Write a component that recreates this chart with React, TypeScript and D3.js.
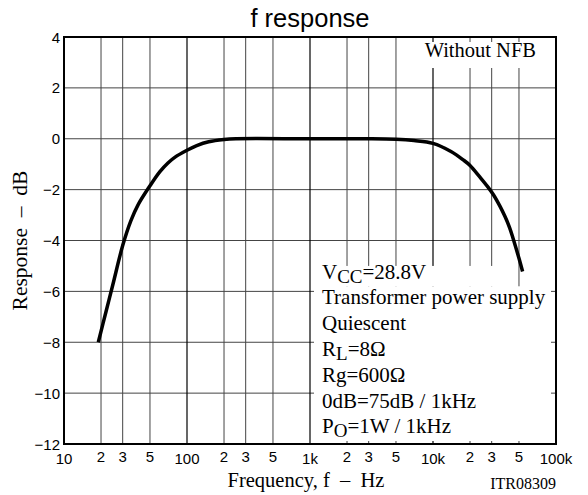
import React from "react";
import * as d3 from "d3";

const titleText = "f response";
const freqs = [19, 22, 25, 30, 35, 40, 50, 60, 70, 80, 100, 120, 150, 200, 250, 1000, 3000, 5000, 7000, 10000, 14000, 17600, 20000, 24000, 28000, 31000, 35000, 38500, 42000, 45000, 50000, 53500];
const response = [-8, -6.78, -5.72, -4.2, -3.22, -2.6, -1.85, -1.3, -0.95, -0.72, -0.45, -0.27, -0.12, -0.03, 0, 0, 0, -0.02, -0.07, -0.18, -0.5, -0.83, -1.05, -1.5, -1.9, -2.2, -2.65, -3.06, -3.5, -3.95, -4.7, -5.22];
const decadeTicks = [10, 100, 1000, 10000, 100000];
const decadeLabels = ["10", "100", "1k", "10k", "100k"];
const minorMultipliers = [2, 3, 5];
const yTicks = [-12, -10, -8, -6, -4, -2, 0, 2, 4];
const annotationLines = [
  ["V", "CC", "=28.8V"],
  ["Transformer power supply"],
  ["Quiescent"],
  ["R", "L", "=8Ω"],
  ["Rg=600Ω"],
  ["0dB=75dB / 1kHz"],
  ["P", "O", "=1W / 1kHz"],
];

const W = 588, H = 495;
const L = 64, R = 556, T = 37, B = 444;

export default function App() {
  const x = d3.scaleLog().domain([10, 100000]).range([L, R]);
  const y = d3.scaleLinear().domain([-12, 4]).range([B, T]);
  const minorTicks: number[] = [];
  decadeTicks.slice(0, -1).forEach((d) => minorMultipliers.forEach((m) => minorTicks.push(d * m)));
  const line = d3
    .line<number>()
    .x((_, i) => x(freqs[i]))
    .y((v) => y(v))
    .curve(d3.curveCatmullRom.alpha(0.5));
  const sans = "'Liberation Sans', Arial, sans-serif";
  const serif = "'Liberation Serif', 'Times New Roman', serif";
  const annX = x(1000) + 12;
  const annY0 = y(-5.5);
  const lineH = 25.8;
  return (
    <svg width={W} height={H} style={{ position: "absolute", left: 0, top: 0, background: "#fff" }}>
      <rect width={W} height={H} fill="#fff" />
      <text x={(L + R) / 2} y={27} textAnchor="middle" fontFamily={sans} fontSize={25.5}>
        {titleText}
      </text>
      {/* grid */}
      {yTicks.map((t) => (
        <line key={"h" + t} x1={L} x2={R} y1={y(t)} y2={y(t)} stroke="#444" strokeWidth={1} />
      ))}
      {minorTicks.map((t) => (
        <line key={"m" + t} x1={x(t)} x2={x(t)} y1={T} y2={B} stroke="#444" strokeWidth={1} />
      ))}
      {decadeTicks.map((t) => (
        <line key={"d" + t} x1={x(t)} x2={x(t)} y1={T} y2={B} stroke="#000" strokeWidth={1.2} />
      ))}
      {/* text backgrounds */}
      <rect x={x(6500)} y={T + 5} width={R - 5 - x(6500)} height={26} fill="#fff" />
      <rect x={x(1000) + 4} y={y(-5)} width={x(40000) - x(1000) - 4} height={y(-5.8) - y(-5)} fill="#fff" />
      <rect x={x(1000) + 4} y={y(-5.8)} width={R - 5 - x(1000) - 4} height={B - 3 - y(-5.8)} fill="#fff" />
      {/* curve */}
      <path d={line(response) || ""} fill="none" stroke="#000" strokeWidth={3.5} strokeLinecap="butt" />
      {/* border */}
      <rect x={L} y={T} width={R - L} height={B - T} fill="none" stroke="#000" strokeWidth={2} />
      {/* y tick labels */}
      {yTicks.map((t) => (
        <text key={"yl" + t} x={L - 4} y={y(t) + 5.5} textAnchor="end" fontFamily={sans} fontSize={15}>
          {t < 0 ? "\u2212" + Math.abs(t) : String(t)}
        </text>
      ))}
      {/* x tick labels */}
      {decadeTicks.map((t, i) => (
        <text key={"xl" + t} x={x(t)} y={B + 20} textAnchor="middle" fontFamily={sans} fontSize={15}>
          {decadeLabels[i]}
        </text>
      ))}
      {minorTicks.map((t) => (
        <text key={"xm" + t} x={x(t)} y={B + 18} textAnchor="middle" fontFamily={sans} fontSize={15}>
          {String(Math.round(t / Math.pow(10, Math.floor(Math.log10(t) + 1e-9))))}
        </text>
      ))}
      {/* axis titles */}
      <text x={306} y={487} textAnchor="middle" fontFamily={serif} fontSize={20.5} style={{ whiteSpace: "pre" }}>
        {"Frequency, f  –  Hz"}
      </text>
      <text
        transform={`translate(27,${(T + B) / 2}) rotate(-90)`}
        textAnchor="middle"
        fontFamily={serif}
        fontSize={21.5}
        style={{ whiteSpace: "pre" }}
      >
        {"Response  –  dB"}
      </text>
      <text x={R} y={489} textAnchor="end" fontFamily={serif} fontSize={16}>
        ITR08309
      </text>
      <text x={R - 20} y={57} textAnchor="end" fontFamily={serif} fontSize={20.5}>
        Without NFB
      </text>
      {/* annotation */}
      {annotationLines.map((parts, i) => (
        <text key={"a" + i} x={annX} y={annY0 + i * lineH} fontFamily={serif} fontSize={21}>
          {parts.length === 1 ? (
            parts[0]
          ) : (
            <>
              <tspan>{parts[0]}</tspan>
              <tspan dy={4} fontSize={19}>{parts[1]}</tspan>
              <tspan dy={-4}>{parts[2]}</tspan>
            </>
          )}
        </text>
      ))}
    </svg>
  );
}
